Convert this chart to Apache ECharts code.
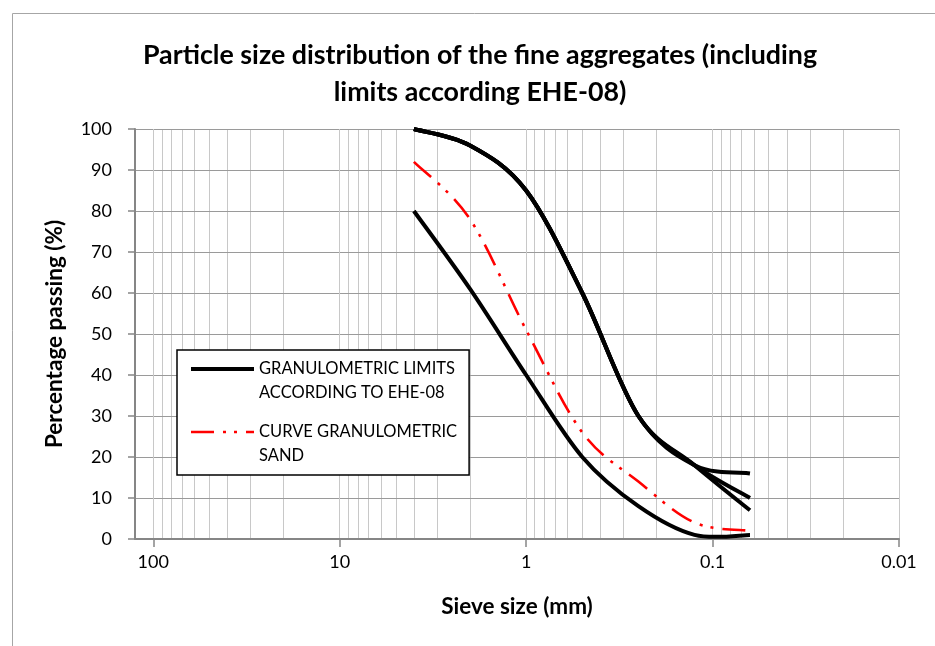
<!DOCTYPE html>
<html><head><meta charset="utf-8">
<script src="https://cdn.jsdelivr.net/npm/echarts@6/dist/echarts.min.js"></script>
<style>html,body{margin:0;padding:0;background:#fff}#c{width:935px;height:646px}</style>
</head><body><div id="c"></div>
<script>
// ---- data ----
const sieveSizes = [4, 2, 1, 0.5, 0.25, 0.125, 0.063];
const upperLimit16 = [100, 96, 85, 60, 30, 18, 16];
const upperLimit10 = [100, 96, 85, 60, 30, 18, 10];
const upperLimit7 = [100, 96, 85, 60, 30, 18, 7];
const lowerLimit = [80, 61, 40, 20, 8, 1, 1];
const sandCurve = [92, 78, 51, 26, 14, 4, 2];
const xTickValues = [100, 10, 1, 0.1, 0.01];
const xTickLabels = ['100', '10', '1', '0.1', '0.01'];
const xMinorGridValues = [90, 80, 70, 60, 50, 40, 30, 20,
  9, 8, 7, 6, 5, 4, 3, 2,
  0.9, 0.8, 0.7, 0.6, 0.5, 0.4, 0.3, 0.2,
  0.09, 0.08, 0.07, 0.06, 0.05, 0.04, 0.03, 0.02];
const xAxisMin = 0.01, xAxisMax = 125.3;
const yAxisMin = 0, yAxisMax = 100, yAxisInterval = 10;
const titleText = 'Particle size distribution of the fine aggregates (including\nlimits according EHE-08)';
const xAxisTitle = 'Sieve size (mm)';
const yAxisTitle = 'Percentage passing (%)';
const limitsName = 'GRANULOMETRIC LIMITS\nACCORDING TO EHE-08';
const sandName = 'CURVE GRANULOMETRIC\nSAND';

const FONT = 'Lato, "Open Sans", sans-serif';
const SAND_DASH = [23, 9, 3, 8, 3, 9];
const pairs = (ys) => sieveSizes.map((x, i) => [x, ys[i]]);

// Spreadsheet-style smoothed curve (Bezier through every point), in pixel space
function smoothPath(pts) {
  const n = pts.length;
  const dist = (a, b) => Math.hypot(a[0] - b[0], a[1] - b[1]);
  let d = 'M' + pts[0][0] + ',' + pts[0][1];
  for (let i = 0; i < n - 1; i++) {
    const p0 = pts[Math.max(i - 1, 0)], p1 = pts[i], p2 = pts[i + 1], p3 = pts[Math.min(i + 2, n - 1)];
    const d12 = dist(p1, p2), d02 = dist(p0, p2), d13 = dist(p1, p3);
    let f1 = 1 / 6, f2 = 1 / 6;
    if (d02 > 0 && d02 / 6 >= d12 / 2) f1 = d12 / (2 * d02);
    if (d13 > 0 && d13 / 6 >= d12 / 2) f2 = d12 / (2 * d13);
    const c1 = [p1[0] + f1 * (p2[0] - p0[0]), p1[1] + f1 * (p2[1] - p0[1])];
    const c2 = [p2[0] - f2 * (p3[0] - p1[0]), p2[1] - f2 * (p3[1] - p1[1])];
    d += ' C' + c1[0] + ',' + c1[1] + ' ' + c2[0] + ',' + c2[1] + ' ' + p2[0] + ',' + p2[1];
  }
  return d;
}

function curveSeries(name, ys, stroke, width, dash, z) {
  return {
    type: 'custom', name: name, data: pairs(ys), z: z, silent: true, clip: false,
    encode: { x: 0, y: 1 },
    renderItem: (params, api) => {
      if (params.dataIndex !== 0) return null;
      const pts = sieveSizes.map((x, i) => api.coord([x, ys[i]]));
      return {
        type: 'path', shape: { pathData: smoothPath(pts) },
        style: { fill: 'none', stroke: stroke, lineWidth: width, lineDash: dash || null, lineCap: 'butt', lineJoin: 'round' }
      };
    }
  };
}

const chart = echarts.init(document.getElementById('c'), null, { renderer: 'canvas' });
chart.setOption({
  animation: false,
  backgroundColor: '#fff',
  textStyle: { fontFamily: FONT },
  graphic: [{
    type: 'rect', left: 10, top: 11, silent: true, z: -1,
    shape: { width: 1000, height: 1000 },
    style: { fill: 'none', stroke: '#a6a6a6', lineWidth: 1 }
  }],
  title: {
    text: titleText, left: 480, top: 37, textAlign: 'center', padding: 0,
    textStyle: { fontFamily: FONT, fontWeight: 'bold', fontSize: 26.8, lineHeight: 37, color: '#000' }
  },
  legend: {
    data: [limitsName, sandName],
    orient: 'vertical', left: 177, top: 350,
    padding: [-17, 12, 7, 12], itemGap: -9, itemWidth: 63, itemHeight: 14,
    backgroundColor: '#fff', borderColor: '#000', borderWidth: 1.5, borderRadius: 0,
    selectedMode: false, z: 10,
    formatter: (name) => '\n' + name,
    itemStyle: { opacity: 0 },
    lineStyle: { width: 'inherit' },
    textStyle: { fontFamily: FONT, fontSize: 16.5, color: '#000', lineHeight: 24 }
  },
  grid: { left: 135, right: 36, top: 129, bottom: 107, containLabel: false },
  xAxis: {
    type: 'log', logBase: 10, inverse: true, min: xAxisMin, max: xAxisMax, z: 2,
    name: xAxisTitle, nameLocation: 'middle', nameGap: 56,
    nameTextStyle: { fontFamily: FONT, fontWeight: 'bold', fontSize: 22.5, color: '#000' },
    axisLine: { show: true, onZero: false, lineStyle: { color: '#868686', width: 2 } },
    axisTick: { show: true, length: 8, inside: false, customValues: xTickValues, lineStyle: { color: '#868686', width: 1.5 } },
    axisLabel: {
      margin: 14, fontFamily: FONT, fontSize: 18, color: '#000', customValues: xTickValues,
      formatter: (v) => {
        const i = xTickValues.findIndex(t => Math.abs(Math.log10(t) - Math.log10(v)) < 1e-6);
        return i >= 0 ? xTickLabels[i] : '';
      }
    },
    splitLine: { show: true, lineStyle: { color: '#c8c8c8', width: 1 } },
    minorTick: { show: false }, minorSplitLine: { show: false }
  },
  yAxis: {
    type: 'value', min: yAxisMin, max: yAxisMax, interval: yAxisInterval, z: 2,
    name: yAxisTitle, nameLocation: 'middle', nameGap: 69, nameRotate: 90,
    nameTextStyle: { fontFamily: FONT, fontWeight: 'bold', fontSize: 22.5, color: '#000' },
    axisLine: { show: true, lineStyle: { color: '#868686', width: 2 } },
    axisTick: { show: true, length: 7, inside: false, lineStyle: { color: '#868686', width: 1.5 } },
    axisLabel: { margin: 23, fontFamily: FONT, fontSize: 18, color: '#000' },
    splitLine: { show: true, lineStyle: { color: '#9a9a9a', width: 1 } }
  },
  series: [
    {
      type: 'line', name: 'minor grid', data: [], silent: true, z: 1, symbol: 'none',
      markLine: {
        silent: true, z: 1, animation: false, symbol: ['none', 'none'],
        label: { show: false }, emphasis: { disabled: true },
        lineStyle: { color: '#c8c8c8', width: 1, type: 'solid' },
        data: xMinorGridValues.map(v => ({ xAxis: v }))
      }
    },
    // legend entries (styles shown in the legend box)
    { type: 'line', name: limitsName, data: [], symbol: 'none', lineStyle: { color: '#000', width: 4, type: 'solid' }, itemStyle: { color: '#000' } },
    { type: 'line', name: sandName, data: [], symbol: 'none', lineStyle: { color: '#ff0000', width: 2.6, type: SAND_DASH }, itemStyle: { color: '#ff0000' } },
    // curves
    curveSeries('Upper limit (16)', upperLimit16, '#000', 4, null, 3),
    curveSeries('Upper limit (10)', upperLimit10, '#000', 4, null, 3),
    curveSeries('Upper limit (7)', upperLimit7, '#000', 4, null, 3),
    curveSeries('Lower limit', lowerLimit, '#000', 4, null, 3),
    curveSeries('Sand', sandCurve, '#ff0000', 2.6, SAND_DASH, 4)
  ]
});
</script></body></html>
